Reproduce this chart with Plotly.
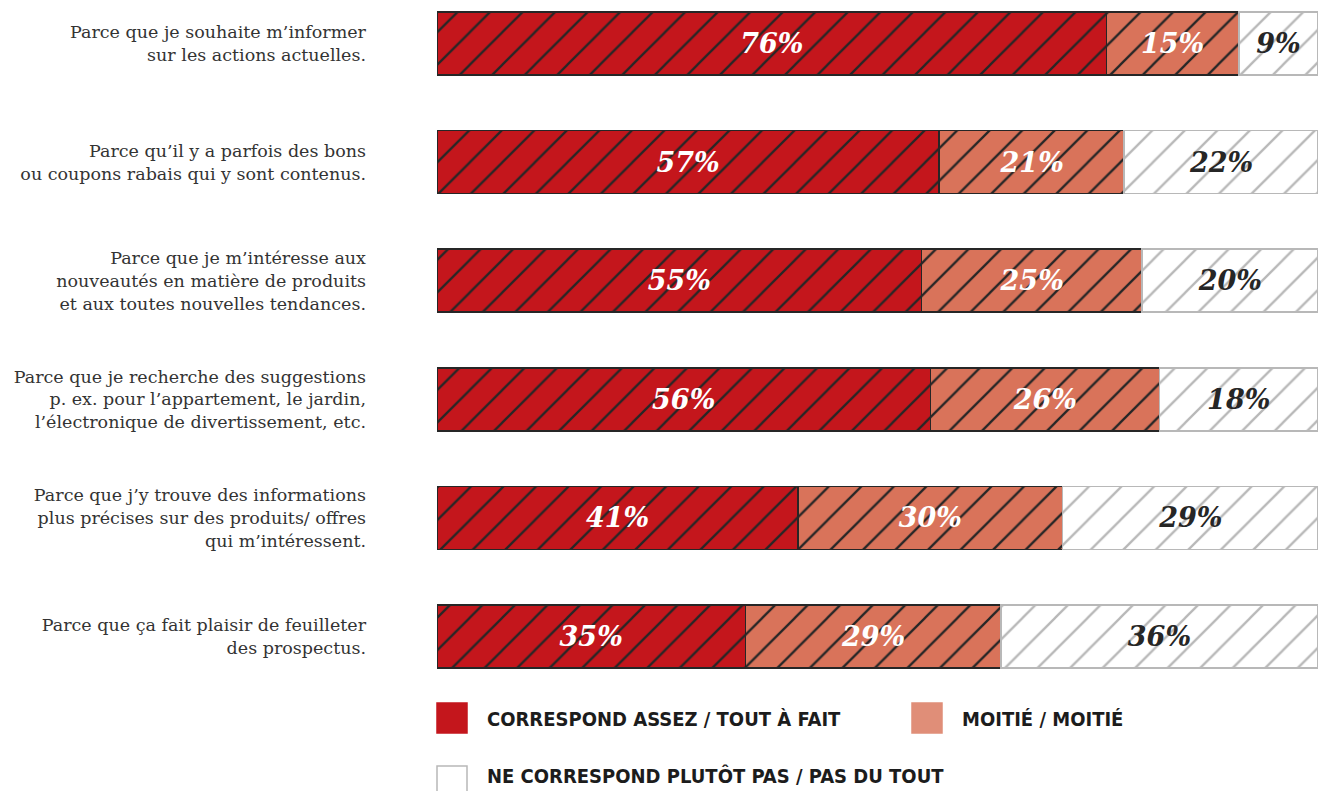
import plotly.graph_objects as go

# Survey statements (top to bottom) and answer shares in percent
categories = [
    "Parce que je souhaite m’informer<br>sur les actions actuelles.",
    "Parce qu’il y a parfois des bons<br>ou coupons rabais qui y sont contenus.",
    "Parce que je m’intéresse aux<br>nouveautés en matière de produits<br>et aux toutes nouvelles tendances.",
    "Parce que je recherche des suggestions<br>p. ex. pour l’appartement, le jardin,<br>l’électronique de divertissement, etc.",
    "Parce que j’y trouve des informations<br>plus précises sur des produits/ offres<br>qui m’intéressent.",
    "Parce que ça fait plaisir de feuilleter<br>des prospectus.",
]
agree = [76, 57, 55, 56, 41, 35]
half = [15, 21, 25, 26, 30, 29]
disagree = [9, 22, 20, 18, 29, 36]

series_names = [
    "CORRESPOND ASSEZ / TOUT À FAIT",
    "MOITIÉ / MOITIÉ",
    "NE CORRESPOND PLUTÔT PAS / PAS DU TOUT",
]

RED = "#c4161c"
SALMON = "#d9735a"
SALMON_KEY = "#e08e78"
DARK = "#262626"
GREY = "#b8b8b8"

rows = list(range(len(categories)))
value_font = dict(family="DejaVu Serif", size=27, style="italic", weight="bold")


def bar(values, fill, hatch, edge, text_color, name):
    return go.Bar(
        x=values,
        y=rows,
        orientation="h",
        name=name,
        width=0.53,
        text=[f"{v}%" for v in values],
        textposition="inside",
        insidetextanchor="middle",
        textangle=0,
        constraintext="none",
        textfont=dict(color=text_color, **value_font),
        marker=dict(
            color=fill,
            line=dict(color=edge, width=1.6),
            pattern=dict(shape="/", fgcolor=hatch, bgcolor=fill,
                         fgopacity=1, size=23, solidity=0.1),
        ),
        showlegend=False,
        hoverinfo="skip",
    )


fig = go.Figure([
    bar(agree, RED, DARK, DARK, "white", series_names[0]),
    bar(half, SALMON, DARK, DARK, "white", series_names[1]),
    bar(disagree, "white", GREY, GREY, DARK, series_names[2]),
])

fig.update_layout(
    width=1326,
    height=791,
    barmode="stack",
    plot_bgcolor="white",
    paper_bgcolor="white",
    margin=dict(l=437, r=8, t=0, b=111),
    uniformtext=dict(minsize=27, mode="show"),
    xaxis=dict(range=[0, 100], visible=False, fixedrange=True),
    yaxis=dict(
        range=[5.367, -0.367],
        tickmode="array",
        tickvals=rows,
        ticktext=categories,
        showgrid=False,
        zeroline=False,
        showline=False,
        ticks="",
        ticklabelstandoff=70,
        tickfont=dict(family="DejaVu Serif", size=17.5, color="#333333"),
        fixedrange=True,
    ),
)

# Legend keys drawn below the bars
plot_w, plot_h = 881, 680


def px_x(px):
    return (px - 437) / plot_w


def px_y(py):
    return (plot_h - py) / plot_h


keys = [
    (437, 703, RED, RED, series_names[0], 16),
    (912, 703, SALMON_KEY, SALMON_KEY, series_names[1], 16),
    (437, 766, "white", GREY, series_names[2], 10),
]
for kx, ky, fill, edge, label, dy in keys:
    fig.add_shape(
        type="rect", xref="paper", yref="paper",
        x0=px_x(kx), x1=px_x(kx + 30), y0=px_y(ky + 30), y1=px_y(ky),
        fillcolor=fill, line=dict(color=edge, width=1.5),
    )
    fig.add_annotation(
        xref="paper", yref="paper",
        x=px_x(kx + 48), y=px_y(ky + dy),
        xanchor="left", yanchor="middle", showarrow=False,
        text=label,
        font=dict(family="Liberation Sans Narrow, DejaVu Sans Condensed, sans-serif",
                  size=20, weight="bold", color="#1c1c1c"),
    )

fig.write_html("out.html")
